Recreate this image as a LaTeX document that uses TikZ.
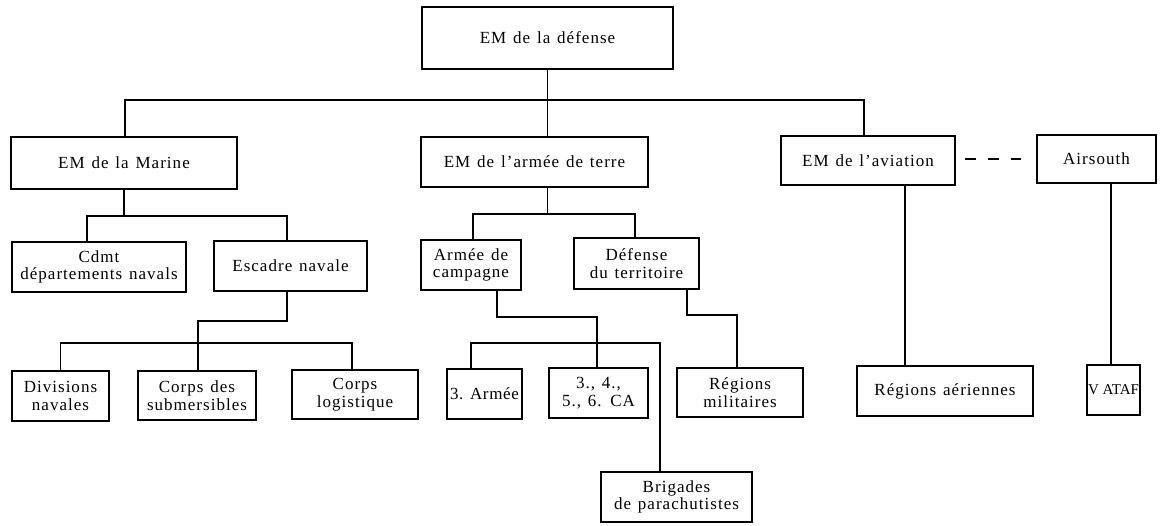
\documentclass[tikz,border=0pt]{standalone}
\usepackage{fontspec}
\newfontfamily\orgfont[LetterSpace=6,WordSpace=1.3]{Liberation Serif}
\newfontfamily\orgnarrow[LetterSpace=4]{Liberation Serif}
\newfontfamily\orgtight{Liberation Serif}
\begin{document}
\begin{tikzpicture}[x=1pt,y=-1pt,
  orgbox/.style={draw, line width=1.2pt, inner sep=0pt, align=center,
    font=\orgfont\fontsize{17}{17.5}\selectfont},
  link/.style={line width=1.2pt},
  dashlink/.style={line width=1.2pt, dash pattern=on 11pt off 12pt}]
\useasboundingbox[fill=white] (0,0) rectangle (1166,525);
% level 0
\node[orgbox, minimum width=251pt, minimum height=62pt] (def) at (547.5,38) {EM de la défense};
% level 1
\node[orgbox, minimum width=226pt, minimum height=52pt] (marine) at (124,163) {EM de la Marine};
\node[orgbox, minimum width=227pt, minimum height=50pt] (terre) at (534.5,162) {EM de l’armée de terre};
\node[orgbox, minimum width=174pt, minimum height=49pt] (aviation) at (868,160.5) {EM de l’aviation};
\node[orgbox, minimum width=119pt, minimum height=48pt] (airsouth) at (1096.5,159) {Airsouth};
% level 2
\node[orgbox, minimum width=174pt, minimum height=50pt] (cdmt) at (99,267) {Cdmt\\départements navals};
\node[orgbox, minimum width=153pt, minimum height=50pt] (escadre) at (290.5,266) {Escadre navale};
\node[orgbox, minimum width=100pt, minimum height=50pt] (campagne) at (471,265) {Armée de\\campagne};
\node[orgbox, minimum width=125pt, minimum height=51pt] (defterr) at (636.5,263.5) {Défense\\du territoire};
% level 3
\node[orgbox, minimum width=97pt, minimum height=50pt] (divisions) at (60.5,396) {Divisions\\navales};
\node[orgbox, minimum width=118pt, minimum height=49pt] (submers) at (197,395.5) {Corps des\\submersibles};
\node[orgbox, minimum width=126pt, minimum height=49pt] (logist) at (355,394.5) {Corps\\logistique};
\node[orgbox, minimum width=75pt, minimum height=50pt, font=\orgnarrow\fontsize{17}{17.5}\selectfont] (armee3) at (484.5,394) {3. Armée};
\node[orgbox, minimum width=99pt, minimum height=50pt] (ca) at (598.5,393) {3., 4.,\\5., 6. CA};
\node[orgbox, minimum width=126pt, minimum height=49pt] (regmil) at (740,392.5) {Régions\\militaires};
\node[orgbox, minimum width=176pt, minimum height=50pt] (regaer) at (945,391) {Régions aériennes};
\node[orgbox, minimum width=53pt, minimum height=50pt, font=\orgtight\fontsize{15}{17}\selectfont] (vataf) at (1113.5,390) {V ATAF};
% level 4
\node[orgbox, minimum width=151pt, minimum height=50pt] (brig) at (676.5,497) {Brigades\\de parachutistes};

% connectors from EM de la defense
\draw[link] (def.south) -- (def.south |- terre.north);
\draw[link] ([xshift=1pt]marine.north) -- ([xshift=1pt]marine.north |- 0,100) -- ([xshift=-4pt]aviation.north |- 0,100) -- ([xshift=-4pt]aviation.north);
% marine
\draw[link] (marine.south) -- (marine.south |- 0,216);
\draw[link] ([xshift=-12pt]cdmt.north) -- ([xshift=-12pt]cdmt.north |- 0,216) -- ([xshift=-3.5pt]escadre.north |- 0,216) -- ([xshift=-3.5pt]escadre.north);
\draw[link] ([xshift=-3.5pt]escadre.south) -- ([xshift=-3.5pt]escadre.south |- 0,321) -- ([xshift=1pt]submers.north |- 0,321) -- ([xshift=1pt]submers.north);
\draw[link] (divisions.north) -- (divisions.north |- 0,343) -- ([xshift=-3pt]logist.north |- 0,343) -- ([xshift=-3pt]logist.north);
% armee de terre
\draw[link] (def.south |- terre.south) -- (def.south |- 0,214);
\draw[link] ([xshift=2pt]campagne.north) -- ([xshift=2pt]campagne.north |- 0,214) -- ([xshift=-1.5pt]defterr.north |- 0,214) -- ([xshift=-1.5pt]defterr.north);
\draw[link] ([xshift=26pt]campagne.south) -- ([xshift=26pt]campagne.south |- 0,317) -- ([xshift=-1.5pt]ca.north |- 0,317) -- ([xshift=-1.5pt]ca.north);
\draw[link] ([xshift=-13.5pt]armee3.north) -- ([xshift=-13.5pt]armee3.north |- 0,343) -- ([xshift=-16.5pt]brig.north |- 0,343) -- ([xshift=-16.5pt]brig.north);
\draw[link] ([xshift=50.5pt]defterr.south) -- ([xshift=50.5pt]defterr.south |- 0,315) -- ([xshift=-3pt]regmil.north |- 0,315) -- ([xshift=-3pt]regmil.north);
% aviation
\draw[link] ([xshift=37pt]aviation.south) -- ([xshift=-40pt]regaer.north);
\draw[dashlink, shorten <=9pt, shorten >=15pt] (aviation.east |- airsouth.west) -- (airsouth.west);
\draw[link] ([xshift=14.5pt]airsouth.south) -- ([xshift=-2.5pt]vataf.north);
\end{tikzpicture}
\end{document}
